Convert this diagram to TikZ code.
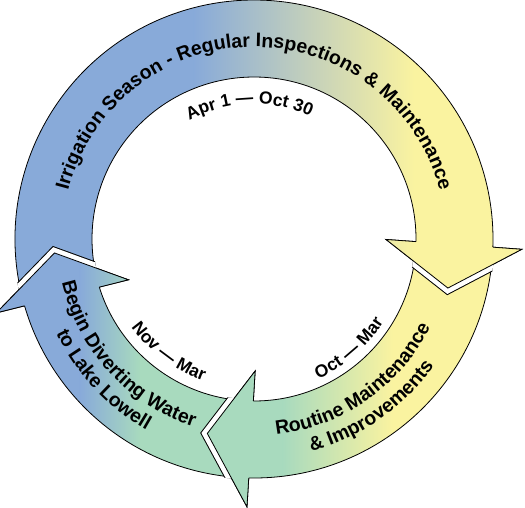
\documentclass[tikz,border=0pt]{standalone}
\usepackage{fontspec}
\setmainfont{Liberation Sans}
\usetikzlibrary{decorations.text}
\definecolor{cblue}{HTML}{88AAD9}
\definecolor{cyel}{HTML}{FAF3A0}
\definecolor{cgreen}{HTML}{A8DABE}
\newcommand{\cycbig}{\fontsize{19.5}{21}\selectfont\bfseries}
\newcommand{\cycsmall}{\fontsize{17.5}{20}\selectfont\bfseries}
\newcommand{\fillT}{%
  \fill[cblue] (-260pt,-275pt) rectangle (-59pt,245pt);
  \fill[cyel] (159pt,-275pt) rectangle (275pt,245pt);
  \shade[left color=cblue,right color=cyel] (-60pt,-275pt) rectangle (160pt,245pt);}
\newcommand{\fillB}{%
  \fill[cgreen] (-260pt,-275pt) rectangle (30pt,245pt);
  \fill[cyel] (138pt,-275pt) rectangle (275pt,245pt);
  \shade[left color=cgreen,right color=cyel] (29pt,-275pt) rectangle (139pt,245pt);}
\newcommand{\fillL}{%
  \fill[cblue] (-260pt,-275pt) rectangle (-173pt,245pt);
  \fill[cgreen] (-115pt,-275pt) rectangle (275pt,245pt);
  \shade[left color=cblue,right color=cgreen] (-174pt,-275pt) rectangle (-114pt,245pt);}
\newcommand{\ringclip}{\clip (0:240.5pt) arc[start angle=0,end angle=360,radius=240.5pt] -- (0:160.5pt) arc[start angle=360,end angle=0,radius=160.5pt] -- cycle;}
\begin{document}
\begin{tikzpicture}[x=1pt,y=1pt,line join=miter,
  outline/.style={draw=black,line width=0.8pt},
  gapblack/.style={draw=black,line width=12pt},
  gapwhite/.style={draw=white,line width=10pt}]
\useasboundingbox (-254pt,-268pt) rectangle (271pt,239pt);
% ---------- arrow bodies ----------
% top arrow (blue -> yellow)
\begin{scope}
  \clip (195.44:239pt) arc[start angle=195.44,end angle=-1.96,radius=239pt] -- (-2.2:268pt) -- (-14.2:200pt) -- (-0.2:132pt) -- (-0.93:162pt) arc[start angle=-0.93,end angle=196.47,radius=162pt] -- cycle;
  \fillT
\end{scope}
\path[outline] (195.44:239pt) arc[start angle=195.44,end angle=-1.96,radius=239pt] -- (-2.2:268pt) -- (-14.2:200pt) -- (-0.2:132pt) -- (-0.93:162pt) arc[start angle=-0.93,end angle=196.47,radius=162pt] -- cycle;
% bottom right arrow (green -> yellow)
\begin{scope}
  \clip (-2.76:239pt) arc[start angle=-2.76,end angle=-91.26,radius=239pt] -- (-91.5:268pt) -- (-103.5:200pt) -- (-89.5:132pt) -- (-90.23:162pt) arc[start angle=-90.23,end angle=-1.73,radius=162pt] -- cycle;
  \fillB
\end{scope}
\path[outline] (-2.76:239pt) arc[start angle=-2.76,end angle=-91.26,radius=239pt] -- (-91.5:268pt) -- (-103.5:200pt) -- (-89.5:132pt) -- (-90.23:162pt) arc[start angle=-90.23,end angle=-1.73,radius=162pt] -- cycle;
% left arrow (blue -> green)
\begin{scope}
  \clip (267.94:239pt) arc[start angle=267.94,end angle=196.24,radius=239pt] -- (196:268pt) -- (184:200pt) -- (198:132pt) -- (197.27:162pt) arc[start angle=197.27,end angle=268.97,radius=162pt] -- cycle;
  \fillL
\end{scope}
\path[outline] (267.94:239pt) arc[start angle=267.94,end angle=196.24,radius=239pt] -- (196:268pt) -- (184:200pt) -- (198:132pt) -- (197.27:162pt) arc[start angle=197.27,end angle=268.97,radius=162pt] -- cycle;
% ---------- heads over the following tails ----------
% top arrow head
\begin{scope}
  \ringclip
  \path[gapblack] (-0.2:132pt) -- (-14.2:200pt) -- (-2.2:268pt);
  \path[gapwhite] (-0.2:132pt) -- (-14.2:200pt) -- (-2.2:268pt);
\end{scope}
\begin{scope}
  \clip (-0.2:132pt) -- (-14.2:200pt) -- (-2.2:268pt) -- cycle;
  \fillT
\end{scope}
\path[outline] (-0.93:162pt) -- (-0.2:132pt) -- (-14.2:200pt) -- (-2.2:268pt) -- (-1.96:239pt);
% bottom right arrow head
\begin{scope}
  \ringclip
  \path[gapblack] (-89.5:132pt) -- (-103.5:200pt) -- (-91.5:268pt);
  \path[gapwhite] (-89.5:132pt) -- (-103.5:200pt) -- (-91.5:268pt);
\end{scope}
\begin{scope}
  \clip (-89.5:132pt) -- (-103.5:200pt) -- (-91.5:268pt) -- cycle;
  \fillB
\end{scope}
\path[outline] (-90.23:162pt) -- (-89.5:132pt) -- (-103.5:200pt) -- (-91.5:268pt) -- (-91.26:239pt);
% left arrow head
\begin{scope}
  \ringclip
  \path[gapblack] (198:132pt) -- (184:200pt) -- (196:268pt);
  \path[gapwhite] (198:132pt) -- (184:200pt) -- (196:268pt);
\end{scope}
\begin{scope}
  \clip (198:132pt) -- (184:200pt) -- (196:268pt) -- cycle;
  \fillL
\end{scope}
\path[outline] (197.27:162pt) -- (198:132pt) -- (184:200pt) -- (196:268pt) -- (196.24:239pt);
% ---------- texts ----------
\path[decorate,decoration={text along path,text align=center,
  text={|\cycbig|Irrigation Season - Regular Inspections {\&} Maintenance}}]
  (176:192pt) arc[start angle=176,end angle=4,radius=192pt];
\path[decorate,decoration={text along path,text align=center,
  text={|\cycsmall|Apr 1 — Oct 30}}]
  (152:135pt) arc[start angle=152,end angle=32,radius=135pt];
\path[decorate,decoration={text along path,text align=center,
  text={|\cycsmall|Oct — Mar}}]
  (-110:154pt) arc[start angle=-110,end angle=12,radius=154pt];
\path[decorate,decoration={text along path,text align=center,
  text={|\cycsmall|Nov — Mar}}]
  (-188:151pt) arc[start angle=-188,end angle=-66,radius=151pt];
\path[decorate,decoration={text along path,text align=center,
  text={|\cycbig|Routine Maintenance}}]
  (-115:197pt) arc[start angle=-115,end angle=5,radius=197pt];
\path[decorate,decoration={text along path,text align=center,
  text={|\cycbig|{\&} Improvements}}]
  (-115:220pt) arc[start angle=-115,end angle=5,radius=220pt];
\path[decorate,decoration={text along path,text align=center,
  text={|\cycbig|Begin Diverting Water}}]
  (-200:197pt) arc[start angle=-200,end angle=-75,radius=197pt];
\path[decorate,decoration={text along path,text align=center,
  text={|\cycbig|to Lake Lowell}}]
  (-200:219pt) arc[start angle=-200,end angle=-74,radius=219pt];
\end{tikzpicture}
\end{document}
